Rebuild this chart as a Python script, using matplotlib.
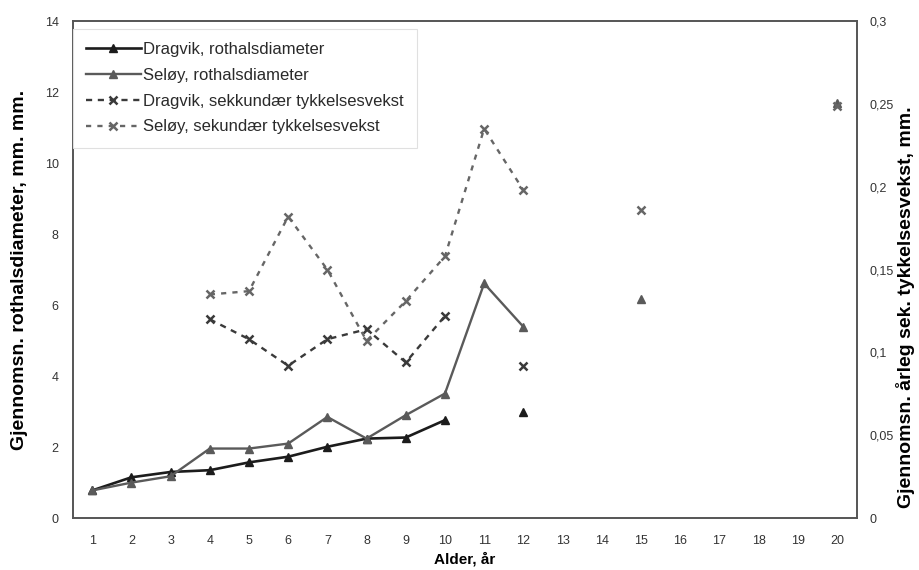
import numpy as np
import matplotlib.pyplot as plt

nan = np.nan

# alder i år (kategorier langs x-aksen)
alder = list(range(1, 21))

# gjennomsnittlig rothalsdiameter, mm
dragvik_rothals = [0.78, 1.15, 1.30, 1.35, 1.57, 1.73, 2.01, 2.24, 2.27, 2.76,
                   nan, 3.00, nan, nan, nan, nan, nan, nan, nan, nan]
seloy_rothals = [0.78, 1.00, 1.18, 1.96, 1.96, 2.10, 2.85, 2.24, 2.90, 3.51,
                 6.61, 5.39, nan, nan, 6.17, nan, nan, nan, nan, 11.70]

# gjennomsnittlig årleg sekundær tykkelsesvekst, mm
dragvik_sek = [nan, nan, nan, 0.120, 0.108, 0.092, 0.108, 0.114, 0.094, 0.122,
               nan, 0.092, nan, nan, nan, nan, nan, nan, nan, nan]
seloy_sek = [nan, nan, nan, 0.135, 0.137, 0.182, 0.150, 0.107, 0.131, 0.158,
             0.235, 0.198, nan, nan, 0.186, nan, nan, nan, nan, 0.249]

venstre_ticks = [0, 2, 4, 6, 8, 10, 12, 14]
hoyre_ticks = [0, 0.05, 0.1, 0.15, 0.2, 0.25, 0.3]
hoyre_labels = ['0', '0,05', '0,1', '0,15', '0,2', '0,25', '0,3']

plt.rcParams['font.family'] = ['Liberation Sans', 'DejaVu Sans']

fig, ax = plt.subplots(figsize=(9.19, 5.70), dpi=100)
fig.subplots_adjust(left=0.079, right=0.932, bottom=0.091, top=0.963)
ax2 = ax.twinx()

l1, = ax.plot(alder, dragvik_rothals, color='#1c1c1c', lw=1.9, marker='^',
              ms=5.5, label='Dragvik, rothalsdiameter')
l2, = ax.plot(alder, seloy_rothals, color='#5a5a5a', lw=1.7, marker='^',
              ms=5.5, label='Seløy, rothalsdiameter')
l3, = ax2.plot(alder, dragvik_sek, color='#3a3a3a', lw=1.7, ls=(0, (2.6, 2.4)),
               marker='x', ms=6, mew=1.8, label='Dragvik, sekkundær tykkelsesvekst')
l4, = ax2.plot(alder, seloy_sek, color='#666666', lw=1.7, ls=(0, (2.2, 2.6)),
               marker='x', ms=6, mew=1.8, label='Seløy, sekundær tykkelsesvekst')

ax.set_xlim(0.5, 20.5)
ax.set_ylim(0, 14)
ax2.set_ylim(0, 0.3)

ax.set_xticks(alder)
ax.set_yticks(venstre_ticks)
ax2.set_yticks(hoyre_ticks)
ax2.set_yticklabels(hoyre_labels)

ax.tick_params(axis='both', length=0, labelsize=9, colors='#333333')
ax.tick_params(axis='x', pad=12)
ax.tick_params(axis='y', pad=10)
ax2.tick_params(axis='y', length=0, labelsize=9, colors='#333333', pad=9)

for a in (ax, ax2):
    for sp in a.spines.values():
        sp.set_color('#555555')
        sp.set_linewidth(1.2)

ax.set_xlabel('Alder, år', fontsize=11, fontweight='bold', labelpad=4)
ax.set_ylabel('Gjennomsn. rothalsdiameter, mm. mm.', fontsize=14,
              fontweight='bold')
ax2.set_ylabel('Gjennomsn. årleg sek. tykkelsesvekst, mm.', fontsize=14,
               fontweight='bold')
ax.yaxis.set_label_coords(-0.057, 0.5)
ax2.yaxis.set_label_coords(1.051, 0.425)

# tegnforklaring øverst til venstre, litt ned fra rammen
leg = ax2.legend(handles=[l1, l2, l3, l4], loc='upper left',
                 bbox_to_anchor=(0, 0.985), borderaxespad=0, fontsize=12,
                 handlelength=3.3, handletextpad=0.1, labelspacing=0.65,
                 borderpad=0.8, fancybox=False, framealpha=1)
leg.get_frame().set_edgecolor('#e0e0e0')
leg.get_frame().set_linewidth(0.8)
for t in leg.get_texts():
    t.set_color('#2a2a2a')

fig.savefig('out.png', dpi=100)
